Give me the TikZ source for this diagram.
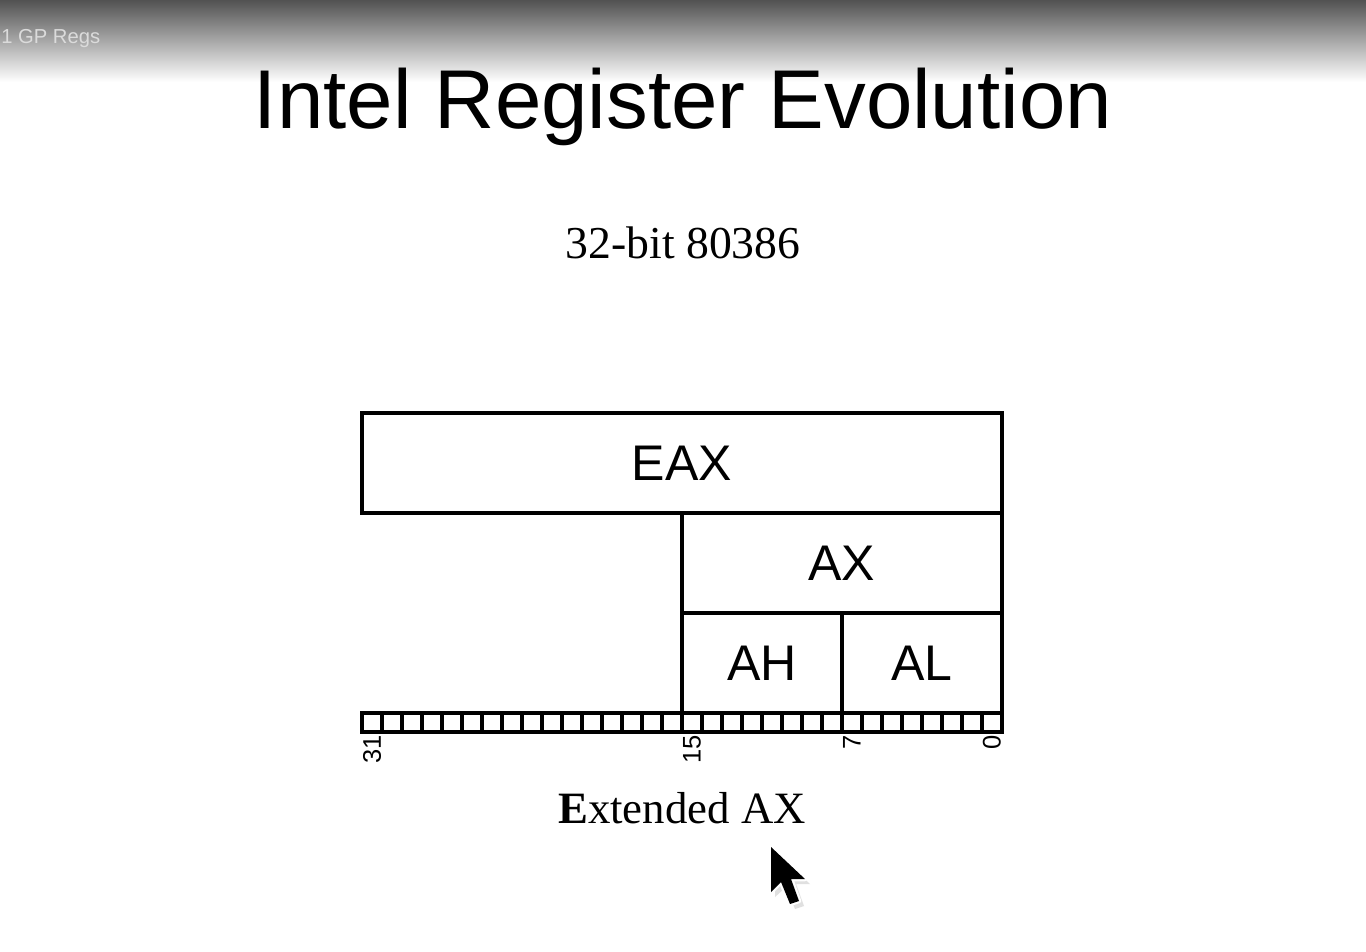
\documentclass[tikz,border=0pt]{standalone}
\usepackage{fontspec}
\setmainfont{Liberation Serif}
\newfontfamily\arialfont{Liberation Sans}
\usepackage{tikz}
\usetikzlibrary{positioning}

\begin{document}
\begin{tikzpicture}[
    x=0.02cm, y=-0.02cm,
    % Define the style for the nodes
    reg/.style={draw=black, line width=0.065cm, minimum height=2cm, inner sep=0pt, outer sep=0pt,
                font=\arialfont\fontsize{28.5}{30}\selectfont},
    bit/.style={draw=black, line width=0.065cm, minimum width=0.4cm, minimum height=0.38cm,
                inner sep=0pt, outer sep=0pt},
    bitnum/.style={rotate=90, inner sep=0pt, font=\arialfont\fontsize{14.5}{15}\selectfont},
    caption/.style={anchor=base, inner sep=0pt, font=\fontsize{26}{28}\selectfont}
]

    % frame and top bar
    \useasboundingbox (0,0) rectangle (1366,951);
    \fill[white] (0,0) rectangle (1366,951);
    \shade[top color=black!68, bottom color=white] (0,0) rectangle (1366,82);
    \node[anchor=base west, inner sep=0pt, text=black!14,
          font=\arialfont\fontsize{11.5}{12}\selectfont] (tab) at (1,43) {1 GP Regs};

    % titles
    \node[anchor=base, inner sep=0pt, font=\arialfont\fontsize{47.5}{50}\selectfont]
        (title) at (683,128) {Intel Register Evolution};
    \node[caption] (cpu) at (683,258) {32-bit 80386};

    % registers
    \node[reg, minimum width=12.8cm] (eax) at (682,463) {EAX};
    \node[reg, minimum width=6.4cm, below left=0pt of eax.south east] (ax) {AX};
    \node[reg, minimum width=3.2cm, below left=0pt of ax.south east] (al) {AL};
    \node[reg, minimum width=3.2cm, left=0pt of al] (ah) {AH};

    % bit strip
    \foreach \i in {0,...,31} {
        \node[bit, anchor=north east] (bit\i) at ([xshift=-\i*0.4cm]al.south east) {};
    }
    \foreach \i in {31,15,7,0} {
        \node[bitnum, anchor=east] (num\i) at ([yshift=-0.06cm]bit\i.south) {\i};
    }

    \node[caption, font=\fontsize{25.5}{27}\selectfont] (name) at (682,823) {\textbf{E}xtended AX};

    % mouse pointer
    \fill[black!12] (775,852) -- (775,897) -- (786,887) -- (795,909) -- (804,906) -- (796,884) -- (810,884) -- cycle;
    \draw[white, line width=0.09cm, line join=round]
        (771,847) -- (771,892) -- (781,882) -- (790,904) -- (799,901) -- (791,879) -- (805,879) -- cycle;
    \fill[black]
        (771,847) -- (771,892) -- (781,882) -- (790,904) -- (799,901) -- (791,879) -- (805,879) -- cycle;

\end{tikzpicture}
\end{document}
